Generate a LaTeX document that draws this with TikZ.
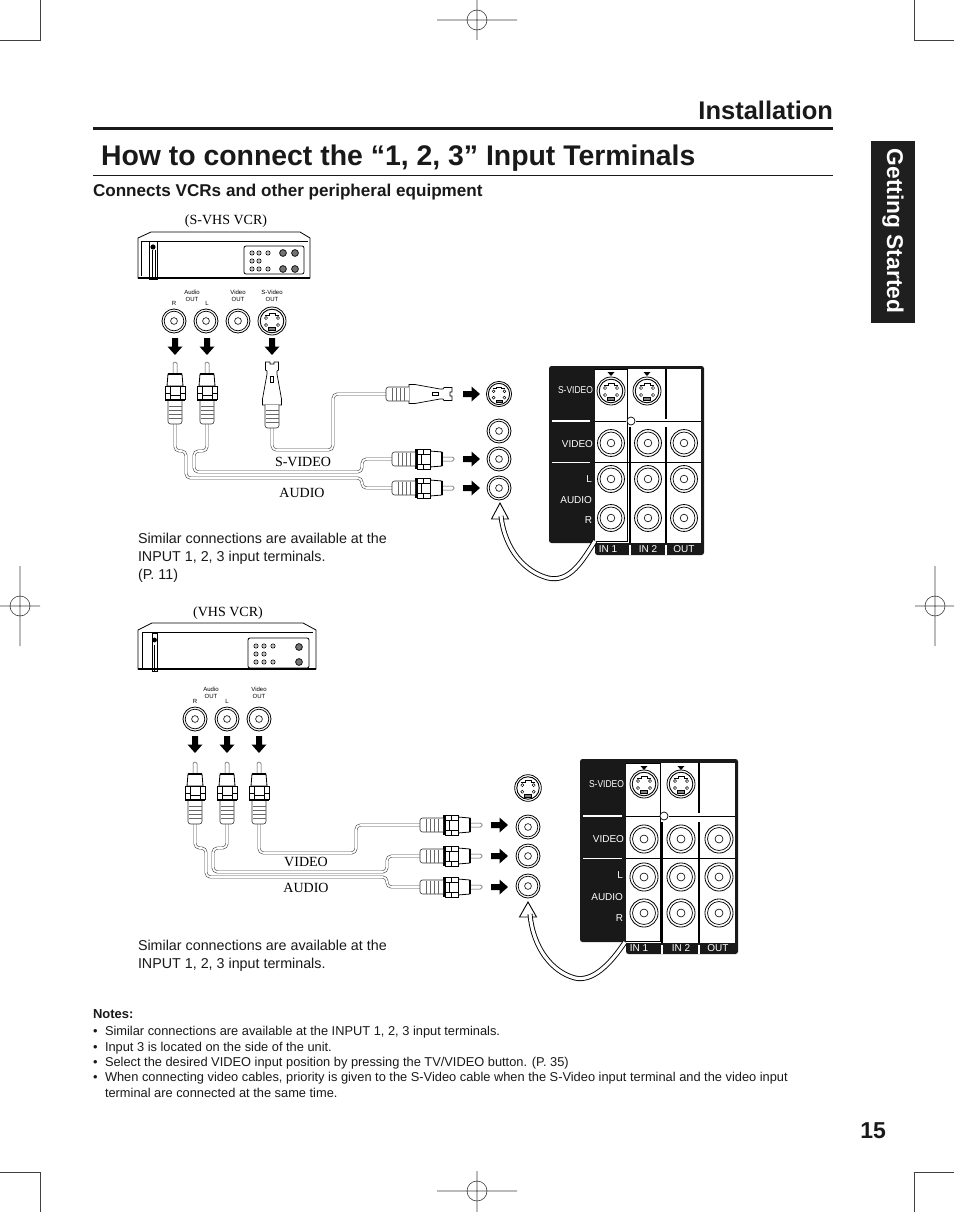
\documentclass[tikz,border=0pt]{standalone}
\usepackage{fontspec}
\setmainfont{Liberation Sans}
\newfontfamily\serifx{Liberation Serif}
\newcommand{\fsz}[1]{\fontsize{#1}{#1}\selectfont}
\tikzset{
  every node/.style={inner sep=0pt,outer sep=0pt},
  crop/.style={draw=black!75,line width=.6pt},
  cable/.style={draw=black!70,line width=.6pt,double=white,double distance=1.7pt,rounded corners=4.5pt},
  hollow/.style={draw=black,line width=.9pt,double=white,double distance=3.2pt},
  txt/.style={anchor=base west,text=black!90},
  serifl/.style={anchor=base,text=black,font=\serifx\fsz{14}},
  small/.style={anchor=base,text=black,font=\fsz{6}},
  panellabel/.style={anchor=base east,text=white,font=\fsz{10}},
  panelnarrow/.style={anchor=base east,text=white,font=\fsz{10},xscale=.85},
  panelbottom/.style={anchor=base,text=white,font=\fsz{10}},
  rcajack/.pic={
    \draw[line width=.8pt,fill=white] (0,0) circle (12);
    \draw[line width=.7pt] (0,0) circle (9.8);
    \draw[line width=.6pt] (0,0) circle (3.4);
  },
  sjack/.pic={
    \draw[line width=.8pt,fill=white] (0,0) circle (14);
    \draw[line width=.9pt] (0,0) circle (11.8);
    \draw[line width=.5pt] (-7,-6)--(-3,-6)--(-3,-8) (7,-6)--(3,-6)--(3,-8) (-3,-8)--(3,-8);
    \foreach \px/\py in {-6/-3,6/-3,-6/4,6/4}{\draw[line width=.5pt] (\px,\py) circle (1.6);}
    \draw[line width=.6pt,fill=black!50] (-3.5,6.5) rectangle (3.5,9.5);
  },
  fatarrow/.pic={
    \fill[black] (-3,0)--(3,0)--(3,8.5)--(7.5,8.5)--(0,17)--(-7.5,8.5)--(-3,8.5)--cycle;
  },
  rcaplug/.pic={
    \draw[line width=.5pt,draw=black!70,fill=white,rounded corners=1.5pt] (-2,12)--(-2,0)--(2,0)--(2,12);
    \draw[line width=.8pt,fill=white] (-7,12)--(7,12)--(8,24)--(-8,24)--cycle;
    \draw[line width=1.6pt] (-7,12)--(7,12);
    \draw[line width=.8pt,fill=white] (-10,24) rectangle (10,37);
    \draw[line width=.7pt] (-5,24)--(-5,37) (5,24)--(5,37) (-10,31)--(-5,31) (5,31)--(10,31) (-5,33)--(5,33);
    \draw[line width=2pt] (-10,38)--(10,38);
    \draw[line width=.6pt,draw=black!80,fill=white,rounded corners=2.5pt] (-7,39)--(-7,62)--(7,62)--(7,39);
    \foreach \ly in {44,48,52,56}{\draw[line width=.6pt,draw=black!60] (-6.5,\ly)--(6.5,\ly);}
  },
  svplug/.pic={
    \draw[line width=.7pt,fill=white] (-6.5,0)--(-2,0)--(-2,2)--(2,2)--(2,0)--(6.5,0)--(6.5,8)--(5,9)--(5,12)--(9.5,37)--(9.5,43)--(-9.5,43)--(-9.5,37)--(-5,12)--(-5,9)--(-6.5,8)--cycle;
    \draw[line width=.6pt] (-1.5,14) rectangle (1.5,20);
    \draw[line width=.6pt,draw=black!80,fill=white,rounded corners=2.5pt] (-7,43)--(-7,66)--(7,66)--(7,43);
    \foreach \ly in {48,52,56,60}{\draw[line width=.6pt,draw=black!60] (-6.5,\ly)--(6.5,\ly);}
  },
}
\newcommand{\smallc}[2]{\draw[line width=.7pt] (#1,#2) circle (2.1);\fill (#1,#2) circle (.7);}
\newcommand{\bigc}[2]{\draw[line width=.7pt,fill=black!55] (#1,#2) circle (3.4);}
\begin{document}
\begin{tikzpicture}[x=1pt,y=-1pt]
\useasboundingbox (0,0) rectangle (954,1212);
\fill[white] (0,0) rectangle (954,1212);
% crop marks
\draw[crop] (0,40)--(40,40)--(40,0) (954,40)--(914,40)--(914,0) (0,1172)--(40,1172)--(40,1212) (954,1172)--(914,1172)--(914,1212);
\draw[crop] (477,20) circle (10) (437,20)--(517,20) (477,0)--(477,40);
\draw[crop] (477,1191) circle (10) (437,1191)--(517,1191) (477,1171)--(477,1212);
\draw[crop] (20,606) circle (10) (0,606)--(40,606) (20,566)--(20,646);
\draw[crop] (935,606) circle (10) (915,606)--(954,606) (935,566)--(935,646);
% header
\node[anchor=base east,font=\bfseries\fsz{25.5},text=black!90] (installation) at (833,120) {Installation};
\draw[line width=3pt,black!90] (93,128.5)--(833,128.5);
\node[txt,font=\bfseries\fsz{28.4}] (title) at (101,165) {How to connect the “1, 2, 3” Input Terminals};
\draw[line width=.8pt,black!90] (93,175)--(833,175);
\node[txt,font=\bfseries\fsz{17.1}] (subhead) at (93,196) {Connects VCRs and other peripheral equipment};
\fill[black!88] (871,141) rectangle (915,323);
\node[rotate=-90,text=white,font=\bfseries\fsz{22.8}] (tab) at (893,231) {Getting Started};
% ---- first VCR ----
\node[serifl] (vcrA) at (226,224) {(S-VHS VCR)};
\draw[line width=.8pt,fill=white] (138,238)--(151,232)--(300,232)--(310,238)--(310,278)--(138,278)--cycle;
\draw[line width=.7pt] (141,241)--(308,241);
\draw[line width=.7pt] (141,241)--(141,276);
\draw[line width=1.4pt] (138,278)--(310,278);
\draw[line width=.7pt] (149,241) rectangle (157,279);
\draw[line width=.7pt] (152,250)--(152,279) (155,250)--(155,279);
\fill (153,247) circle (2.6);
\draw[line width=.8pt,rounded corners=2pt] (244,246) rectangle (304,274);
\foreach \cx/\cy in {252/253,259/253,268/253,252/261,259/261,252/269,259/269,268/269}{\smallc{\cx}{\cy}}
\foreach \cx/\cy in {283/253,295/253,283/269,295/269}{\bigc{\cx}{\cy}}
\node[small] (a1) at (192,294) {Audio};
\node[small] (a2) at (192,301) {OUT};
\node[small] (a3) at (174,305) {R};
\node[small] (a4) at (207,305) {L};
\node[small] (a5) at (238,294) {Video};
\node[small] (a6) at (238,301) {OUT};
\node[small] (a7) at (272,294) {S-Video};
\node[small] (a8) at (272,301) {OUT};
\pic at (174,321) {rcajack};
\pic at (206,321) {rcajack};
\pic at (238,321) {rcajack};
\pic at (272,321) {sjack};
\pic at (175,338) {fatarrow};
\pic at (207,338) {fatarrow};
\pic at (272,338) {fatarrow};
% cables A
\coordinate (ra) at (175,424);
\coordinate (la) at (207,424);
\coordinate (sa) at (272,428);
\coordinate (rb) at (392,488);
\coordinate (lb) at (392,459);
\coordinate (sb) at (388,394);
\draw[cable] (ra)|-(186,451)|-(362,478)|-(rb);
\draw[cable] (la)|-(194,451)|-(362,472)|-(lb);
\draw[cable] (sa)|-(333,450)|-(sb);
\pic at (175,362) {rcaplug};
\pic at (207,362) {rcaplug};
\pic at (272,362) {svplug};
\pic[rotate=-90] at (454,459) {rcaplug};
\pic[rotate=-90] at (454,488) {rcaplug};
\pic[rotate=-90] at (452,394) {svplug};
\foreach \ay in {394,459,488}{\pic[rotate=90] at (463,\ay) {fatarrow};}
\pic[scale=.9] at (499,394) {sjack};
\foreach \jy in {431,459,488}{\pic at (499,\jy) {rcajack};}
\node[serifl] (lsv) at (303,466) {S-VIDEO};
\node[serifl] (laa) at (302,497) {AUDIO};
\node[txt,font=\fsz{14.3}] (simA1) at (138,543) {Similar connections are available at the};
\node[txt,font=\fsz{14.3}] (simA2) at (138,561) {INPUT 1, 2, 3 input terminals.};
\node[txt,font=\fsz{14.3}] (simA3) at (138,579) {(P. 11)};
% panel A
\fill[black!90,rounded corners=2.5pt] (549,366) -- (704,366) -- (704,555) -- (595,555) -- (595,543) -- (549,543) -- cycle;
\fill[white] (595,369) rectangle (701,543);
\draw[line width=.9pt] (595,369)--(627,369)--(627,541)--(595,541);
\draw[line width=.9pt] (595,421)--(626,421) (636,421)--(701,421) (595,462)--(701,462);
\draw[line width=1.1pt] (630,427)--(630,543) (666,369)--(666,419) (666,427)--(666,543);
\draw[line width=.7pt,fill=white] (631,421) circle (4);
\draw[white,line width=1.2pt] (630,545)--(630,555) (666,545)--(666,555);
\draw[white,line width=1.2pt] (552,421)--(590,421);
\draw[white,line width=.8pt] (552,462)--(590,462);
\foreach \tx in {611,647}{\fill (\tx-3.5,372)--(\tx+3.5,372)--(\tx,376)--cycle;\pic at (\tx,391) {sjack};}
\foreach \tx in {611,648,684}{\foreach \ty in {443,479,518}{\pic[scale=1.12] at (\tx,\ty) {rcajack};}}
\node[panelnarrow] (pA1) at (593,393) {S-VIDEO};
\node[panellabel] (pA2) at (593,447) {VIDEO};
\node[panellabel] (pA3) at (592,482) {L};
\node[panellabel] (pA4) at (592,503) {AUDIO};
\node[panellabel] (pA5) at (592,523) {R};
\node[panelbottom] (pA6) at (608,552.5) {IN 1};
\node[panelbottom] (pA7) at (648,552.5) {IN 2};
\node[panelbottom] (pA8) at (684,552.5) {OUT};
% hollow arrow A
\draw[line width=.9pt,fill=white,line join=miter] (500,503)--(508.5,519)--(491.5,519)--cycle;
\draw[hollow] (501,516) .. controls (505,550) and (525,572) .. (548,578) .. controls (570,583) and (583,560) .. (595,541);
% ---- second VCR ----
\node[serifl] (vcrB) at (228,616) {(VHS VCR)};
\draw[line width=.8pt,fill=white] (138,630)--(152,623)--(303,623)--(316,630)--(316,669)--(138,669)--cycle;
\draw[line width=.7pt] (142,632)--(313,632);
\draw[line width=.7pt] (142,632)--(142,668);
\draw[line width=1.4pt] (138,669)--(316,669);
\draw[line width=.7pt] (152,633) rectangle (157,671);
\fill (154.5,640) circle (2.4);
\draw[line width=.7pt] (154.5,645)--(154.5,671);
\draw[line width=.8pt,rounded corners=2pt] (248,638) rectangle (309,668);
\foreach \cx/\cy in {256/646,264/646,273/646,256/654,264/654,256/662,264/662,273/662}{\smallc{\cx}{\cy}}
\foreach \cx/\cy in {299/647,299/662}{\bigc{\cx}{\cy}}
\node[small] (b1) at (211,691) {Audio};
\node[small] (b2) at (211,698) {OUT};
\node[small] (b3) at (195,703) {R};
\node[small] (b4) at (227,703) {L};
\node[small] (b5) at (259,691) {Video};
\node[small] (b6) at (259,698) {OUT};
\foreach \jx in {195,227,259}{\pic at (\jx,719) {rcajack};\pic at (\jx,736) {fatarrow};}
% cables B
\coordinate (rc) at (195,824);
\coordinate (lc) at (227,824);
\coordinate (vc) at (259,824);
\coordinate (rd) at (420,887);
\coordinate (ld) at (420,856);
\coordinate (vd) at (420,825);
\draw[cable] (rc)|-(206,848)|-(387,877)|-(rd);
\draw[cable] (lc)|-(213,848)|-(387,872)|-(ld);
\draw[cable] (vc)|-(356,853)|-(vd);
\foreach \jx in {195,227,259}{\pic at (\jx,762) {rcaplug};}
\foreach \jy in {825,856,887}{\pic[rotate=-90] at (482,\jy) {rcaplug};\pic[rotate=90] at (491,\jy) {fatarrow};}
\pic[scale=.95] at (528,788) {sjack};
\foreach \jy in {827,856,886}{\pic at (528,\jy) {rcajack};}
\node[serifl] (lvb) at (306,866) {VIDEO};
\node[serifl] (lab) at (306,892) {AUDIO};
\node[txt,font=\fsz{14.3}] (simB1) at (138,950) {Similar connections are available at the};
\node[txt,font=\fsz{14.3}] (simB2) at (138,968) {INPUT 1, 2, 3 input terminals.};
% panel B
\fill[black!90,rounded corners=2.5pt] (580,759) -- (738,759) -- (738,954) -- (626,954) -- (626,942) -- (580,942) -- cycle;
\fill[white] (626,763) rectangle (735,943);
\draw[line width=.9pt] (626,763)--(660.5,763)--(660.5,941)--(626,941);
\draw[line width=.9pt] (626,816)--(660,816) (669,816)--(735,816) (626,858)--(735,858);
\draw[line width=1.1pt] (662,822)--(662,943) (699,763)--(699,813) (699,822)--(699,943);
\draw[line width=.7pt,fill=white] (664,816) circle (4);
\draw[white,line width=1.2pt] (662,945)--(662,954) (699,945)--(699,954);
\draw[white,line width=1.2pt] (583,816)--(622,816);
\draw[white,line width=.8pt] (583,858)--(622,858);
\foreach \tx in {644,681}{\fill (\tx-3.5,766)--(\tx+3.5,766)--(\tx,770)--cycle;\pic at (\tx,784) {sjack};}
\foreach \tx in {644,681,719}{\foreach \ty in {839,877,913}{\pic[scale=1.17] at (\tx,\ty) {rcajack};}}
\node[panelnarrow] (pB1) at (624,787) {S-VIDEO};
\node[panellabel] (pB2) at (624,842) {VIDEO};
\node[panellabel] (pB3) at (623,878) {L};
\node[panellabel] (pB4) at (623,900) {AUDIO};
\node[panellabel] (pB5) at (623,921) {R};
\node[panelbottom] (pB6) at (639,951) {IN 1};
\node[panelbottom] (pB7) at (681,951) {IN 2};
\node[panelbottom] (pB8) at (718,951) {OUT};
% hollow arrow B
\draw[line width=.9pt,fill=white,line join=miter] (528,902)--(536.5,917)--(519.5,917)--cycle;
\draw[hollow] (530,914) .. controls (533,948) and (552,972) .. (575,978) .. controls (592,982) and (610,965) .. (625,942);
% notes
\node[txt,font=\bfseries\fsz{13}] (notes) at (93,1018) {Notes:};
\foreach \ny/\nt in {1035/{Similar connections are available at the INPUT 1, 2, 3 input terminals.},1051/{Input 3 is located on the side of the unit.},1066/{Select the desired VIDEO input position by pressing the TV/VIDEO button. (P. 35)},1081/{When connecting video cables, priority is given to the S-Video cable when the S-Video input terminal and the video input}}{
  \node[txt,font=\fsz{12.83}] at (93,\ny) {•};
  \node[txt,font=\fsz{12.83}] at (105,\ny) {\nt};
}
\node[txt,font=\fsz{12.83}] (noteend) at (105,1097) {terminal are connected at the same time.};
\node[anchor=base east,font=\bfseries\fsz{23},text=black!90] (pageno) at (886,1138) {15};
\end{tikzpicture}
\end{document}
